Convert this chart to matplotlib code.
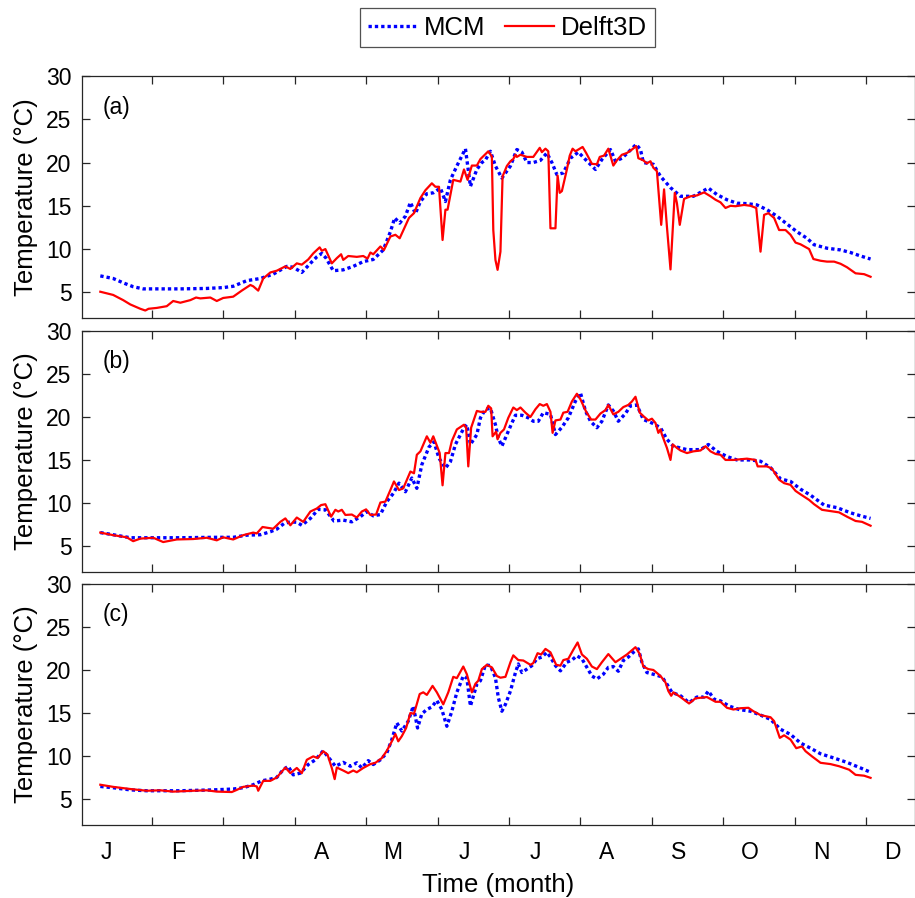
import matplotlib
matplotlib.use("Agg")
import matplotlib.pyplot as plt
import numpy as np

plt.rcParams['font.family'] = ['Liberation Sans', 'DejaVu Sans']

# x = month position (0 = start of Jan), y = temperature (degC)
months = ["J", "F", "M", "A", "M", "J", "J", "A", "S", "O", "N", "D"]
panel_tags = ["(a)", "(b)", "(c)"]

mcm_a = [(0.28, 6.9), (0.46, 6.6), (0.60, 6.1), (0.74, 5.65), (0.88, 5.4), (1.07, 5.4), (1.40, 5.4),
         (1.77, 5.45), (2.00, 5.55), (2.14, 5.7), (2.33, 6.35), (2.52, 6.6), (2.70, 7.1), (2.89, 8.0),
         (2.98, 7.9), (3.10, 7.3), (3.22, 8.35), (3.31, 9.1), (3.38, 9.5), (3.44, 8.95), (3.54, 7.5),
         (3.68, 7.6), (3.82, 8.0), (3.96, 8.55), (4.10, 8.8), (4.24, 9.9), (4.34, 12.0), (4.40, 13.6),
         (4.47, 13.0), (4.55, 13.8), (4.62, 15.4), (4.69, 14.1), (4.76, 15.5), (4.85, 16.4), (4.94, 16.5),
         (5.04, 17.05), (5.11, 15.5), (5.18, 18.0), (5.27, 19.6), (5.39, 21.6), (5.46, 17.25), (5.55, 19.2),
         (5.62, 20.0), (5.67, 20.3), (5.74, 21.3), (5.81, 19.6), (5.90, 18.2), (6.02, 19.6), (6.11, 21.5),
         (6.18, 21.2), (6.25, 20.0), (6.34, 20.0), (6.44, 20.25), (6.53, 21.1), (6.60, 20.0), (6.67, 18.6),
         (6.76, 18.8), (6.86, 20.5), (6.97, 21.2), (7.07, 20.35), (7.21, 19.2), (7.30, 20.35), (7.42, 21.5),
         (7.49, 20.15), (7.58, 20.5), (7.67, 21.2), (7.78, 22.1), (7.84, 21.5), (7.88, 20.0), (8.02, 19.8),
         (8.12, 18.4), (8.26, 17.1), (8.40, 16.1), (8.58, 16.1), (8.68, 16.55), (8.79, 17.05), (8.91, 16.3),
         (9.05, 15.7), (9.19, 15.3), (9.33, 15.25), (9.47, 15.1), (9.61, 14.55), (9.75, 13.8), (9.89, 12.9),
         (10.03, 12.0), (10.17, 11.25), (10.27, 10.5), (10.45, 10.1), (10.64, 9.9), (10.78, 9.6),
         (10.92, 9.2), (11.06, 8.85)]

d3d_a = [(0.28, 5.07), (0.46, 4.7), (0.60, 4.1), (0.70, 3.6), (0.84, 3.1), (0.91, 2.9), (0.955, 3.1),
         (1.07, 3.2), (1.21, 3.4), (1.30, 4.0), (1.40, 3.8), (1.54, 4.1), (1.62, 4.4), (1.68, 4.3),
         (1.82, 4.4), (1.91, 4.0), (2.00, 4.35), (2.14, 4.5), (2.26, 5.2), (2.38, 5.85), (2.42, 5.7),
         (2.49, 5.2), (2.56, 6.6), (2.66, 7.3), (2.75, 7.5), (2.87, 8.0), (2.94, 7.7), (3.03, 8.35),
         (3.10, 8.2), (3.19, 8.8), (3.26, 9.5), (3.35, 10.2), (3.38, 9.8), (3.43, 10.0), (3.52, 8.35),
         (3.59, 8.95), (3.65, 9.4), (3.68, 8.75), (3.75, 9.2), (3.87, 9.1), (3.96, 9.2), (4.02, 8.9),
         (4.06, 9.6), (4.10, 9.4), (4.20, 10.3), (4.25, 9.9), (4.34, 11.45), (4.41, 11.65), (4.47, 11.25),
         (4.60, 13.6), (4.67, 14.15), (4.76, 15.9), (4.83, 16.8), (4.92, 17.6), (4.97, 17.2), (5.02, 17.2),
         (5.07, 11.05), (5.11, 14.55), (5.14, 14.55), (5.22, 18.0), (5.32, 17.8), (5.37, 19.2), (5.42, 18.0),
         (5.48, 19.65), (5.55, 19.65), (5.60, 20.4), (5.71, 21.3), (5.76, 20.7), (5.78, 12.2), (5.81, 8.75),
         (5.84, 7.6), (5.88, 9.7), (5.91, 18.4), (5.97, 19.6), (6.02, 20.15), (6.06, 20.4), (6.09, 20.9),
         (6.11, 20.65), (6.16, 20.9), (6.25, 20.65), (6.34, 20.65), (6.43, 21.7), (6.46, 21.2), (6.51, 21.6),
         (6.55, 21.3), (6.58, 12.4), (6.65, 12.4), (6.68, 18.5), (6.71, 16.5), (6.74, 16.7), (6.81, 19.2),
         (6.85, 20.8), (6.89, 21.6), (6.93, 21.3), (6.97, 21.5), (7.03, 21.8), (7.08, 21.1), (7.16, 19.85),
         (7.23, 19.8), (7.27, 20.65), (7.33, 20.8), (7.39, 21.6), (7.46, 19.65), (7.51, 20.25), (7.58, 20.9),
         (7.65, 21.1), (7.72, 21.5), (7.78, 21.9), (7.81, 20.5), (7.88, 20.25), (7.93, 19.9), (7.98, 20.15),
         (8.02, 19.4), (8.07, 19.0), (8.13, 12.8), (8.17, 16.9), (8.21, 12.6), (8.26, 7.65), (8.32, 16.5),
         (8.35, 15.3), (8.39, 12.8), (8.45, 15.8), (8.54, 16.1), (8.63, 16.2), (8.73, 16.55), (8.82, 16.1),
         (8.89, 15.7), (8.96, 15.4), (9.03, 14.75), (9.10, 15.0), (9.17, 14.95), (9.29, 15.1), (9.38, 15.0),
         (9.46, 14.75), (9.52, 9.7), (9.57, 13.95), (9.63, 14.15), (9.71, 13.6), (9.78, 12.2), (9.87, 12.2),
         (9.94, 11.65), (10.01, 10.75), (10.08, 10.55), (10.20, 10.0), (10.26, 8.85), (10.36, 8.65),
         (10.45, 8.55), (10.55, 8.55), (10.64, 8.3), (10.73, 7.9), (10.85, 7.2), (10.97, 7.1), (11.06, 6.8)]

mcm_b = [(0.28, 6.55), (0.46, 6.3), (0.70, 5.95), (0.93, 5.95), (1.40, 5.95), (1.86, 6.0), (2.14, 6.0),
         (2.33, 6.25), (2.52, 6.3), (2.66, 6.65), (2.75, 6.95), (2.85, 7.6), (2.94, 7.8), (3.03, 7.75),
         (3.10, 7.4), (3.22, 8.2), (3.33, 9.25), (3.43, 9.2), (3.55, 7.9), (3.68, 8.0), (3.80, 7.8),
         (3.92, 8.4), (4.01, 9.0), (4.10, 8.5), (4.20, 8.65), (4.29, 10.15), (4.38, 11.1), (4.46, 12.3),
         (4.55, 11.3), (4.64, 12.9), (4.71, 11.7), (4.78, 14.45), (4.88, 16.5), (4.95, 17.1), (5.02, 15.2),
         (5.11, 14.05), (5.18, 14.8), (5.25, 16.8), (5.37, 18.75), (5.41, 19.1), (5.46, 16.8), (5.55, 17.95),
         (5.60, 19.9), (5.67, 20.9), (5.74, 21.0), (5.81, 19.1), (5.85, 17.55), (5.90, 16.6), (5.97, 17.95),
         (6.04, 19.3), (6.09, 20.2), (6.18, 20.2), (6.27, 19.9), (6.34, 19.5), (6.41, 19.5), (6.48, 20.5),
         (6.58, 20.3), (6.65, 17.95), (6.74, 18.8), (6.83, 19.9), (6.93, 21.85), (7.00, 22.8), (7.07, 20.7),
         (7.14, 19.5), (7.23, 18.75), (7.30, 19.5), (7.39, 21.4), (7.46, 20.7), (7.53, 19.5), (7.63, 20.4),
         (7.70, 21.3), (7.79, 21.4), (7.88, 19.7), (8.00, 19.3), (8.12, 18.75), (8.21, 17.4), (8.30, 16.6),
         (8.49, 16.2), (8.68, 16.2), (8.79, 16.8), (8.91, 16.0), (9.05, 15.4), (9.19, 15.0), (9.38, 15.0),
         (9.52, 14.85), (9.66, 14.1), (9.80, 12.8), (9.94, 12.5), (10.08, 11.6), (10.22, 10.9),
         (10.41, 9.75), (10.59, 9.45), (10.78, 8.85), (10.92, 8.5), (11.06, 8.2)]

d3d_b = [(0.28, 6.55), (0.46, 6.25), (0.65, 6.0), (0.74, 5.55), (0.84, 5.85), (1.02, 5.95), (1.16, 5.45),
         (1.35, 5.75), (1.58, 5.8), (1.77, 5.95), (1.91, 5.65), (2.00, 6.0), (2.14, 5.75), (2.28, 6.25),
         (2.42, 6.55), (2.47, 6.45), (2.55, 7.2), (2.70, 7.0), (2.80, 7.8), (2.87, 8.2), (2.94, 7.4),
         (3.03, 8.3), (3.12, 7.8), (3.22, 9.0), (3.31, 9.35), (3.37, 9.75), (3.43, 9.85), (3.51, 8.4),
         (3.57, 9.2), (3.61, 9.0), (3.66, 9.2), (3.71, 8.6), (3.80, 8.65), (3.87, 8.3), (3.94, 9.0),
         (4.00, 9.25), (4.06, 8.6), (4.14, 8.65), (4.20, 10.05), (4.27, 10.15), (4.34, 11.5), (4.39, 12.5),
         (4.46, 11.5), (4.52, 11.7), (4.62, 13.65), (4.67, 13.45), (4.71, 15.6), (4.76, 16.0), (4.85, 17.75),
         (4.90, 17.0), (4.94, 17.75), (5.03, 15.8), (5.07, 12.05), (5.11, 15.8), (5.16, 15.8), (5.20, 17.2),
         (5.27, 18.55), (5.37, 19.1), (5.40, 18.75), (5.43, 14.25), (5.47, 18.75), (5.55, 20.7),
         (5.60, 20.6), (5.67, 20.6), (5.71, 21.3), (5.75, 21.0), (5.77, 17.75), (5.82, 18.3), (5.84, 17.4),
         (5.88, 18.15), (5.93, 18.55), (5.99, 19.9), (6.06, 21.1), (6.11, 20.8), (6.16, 21.1), (6.23, 20.5),
         (6.30, 20.0), (6.37, 20.9), (6.43, 21.5), (6.48, 21.3), (6.53, 21.5), (6.58, 20.6), (6.61, 18.15),
         (6.65, 19.6), (6.72, 19.7), (6.76, 20.5), (6.82, 20.6), (6.88, 21.8), (6.95, 22.7), (7.00, 22.05),
         (7.08, 20.6), (7.15, 19.7), (7.21, 19.7), (7.28, 20.4), (7.35, 20.8), (7.39, 21.4), (7.46, 20.3),
         (7.53, 20.6), (7.60, 21.15), (7.67, 21.4), (7.72, 21.8), (7.77, 22.35), (7.83, 20.5), (7.88, 20.1),
         (7.95, 19.6), (8.00, 19.8), (8.05, 19.3), (8.09, 18.15), (8.12, 18.55), (8.14, 17.95), (8.21, 16.4),
         (8.26, 15.0), (8.29, 16.8), (8.35, 16.4), (8.40, 16.1), (8.49, 15.8), (8.58, 16.0), (8.68, 16.1),
         (8.75, 16.6), (8.82, 16.0), (8.89, 15.7), (8.96, 15.6), (9.03, 15.0), (9.14, 15.0), (9.33, 15.15),
         (9.45, 15.0), (9.48, 14.25), (9.61, 14.25), (9.68, 14.0), (9.78, 12.7), (9.85, 12.3), (9.94, 12.1),
         (10.01, 11.4), (10.08, 11.0), (10.20, 10.35), (10.27, 9.85), (10.38, 9.2), (10.50, 9.05),
         (10.62, 8.9), (10.73, 8.4), (10.85, 7.9), (10.94, 7.8), (11.06, 7.35)]

mcm_c = [(0.28, 6.45), (0.46, 6.3), (0.70, 6.05), (0.93, 5.95), (1.40, 5.95), (1.86, 6.05), (2.14, 6.15),
         (2.28, 6.3), (2.42, 6.65), (2.54, 7.1), (2.66, 7.3), (2.75, 7.5), (2.84, 8.4), (2.91, 8.8),
         (2.98, 7.8), (3.08, 8.0), (3.19, 9.0), (3.29, 9.55), (3.40, 10.6), (3.50, 9.55), (3.57, 8.8),
         (3.68, 9.25), (3.78, 8.8), (3.87, 9.2), (3.94, 8.6), (4.03, 9.45), (4.10, 9.0), (4.20, 9.55),
         (4.29, 10.35), (4.36, 11.9), (4.43, 13.85), (4.50, 12.9), (4.59, 14.05), (4.66, 15.8), (4.72, 13.25),
         (4.78, 14.9), (4.85, 15.4), (4.92, 15.7), (4.99, 16.45), (5.06, 15.4), (5.13, 13.45), (5.20, 15.2),
         (5.27, 17.4), (5.36, 19.3), (5.41, 19.05), (5.46, 15.8), (5.55, 18.35), (5.60, 18.75), (5.67, 20.6),
         (5.74, 20.5), (5.81, 19.1), (5.85, 16.8), (5.90, 15.2), (5.95, 16.0), (6.02, 17.55), (6.09, 19.7),
         (6.13, 20.7), (6.18, 19.7), (6.25, 20.1), (6.32, 20.5), (6.39, 21.3), (6.46, 21.5), (6.53, 22.05),
         (6.58, 21.5), (6.65, 20.5), (6.72, 19.9), (6.81, 20.9), (6.88, 21.15), (6.95, 21.65), (7.02, 21.3),
         (7.09, 20.3), (7.16, 19.3), (7.23, 18.95), (7.32, 19.5), (7.39, 20.3), (7.46, 20.4), (7.53, 19.85),
         (7.60, 21.1), (7.67, 21.5), (7.74, 22.05), (7.81, 22.45), (7.86, 20.9), (7.93, 19.7), (8.02, 19.5),
         (8.14, 19.2), (8.21, 18.35), (8.28, 17.4), (8.40, 17.0), (8.52, 16.2), (8.63, 16.85), (8.73, 16.85),
         (8.79, 17.55), (8.87, 16.6), (8.96, 16.4), (9.08, 15.8), (9.22, 15.4), (9.38, 15.2), (9.52, 14.75),
         (9.66, 14.25), (9.80, 13.1), (9.94, 12.5), (10.08, 11.5), (10.22, 10.9), (10.36, 10.25),
         (10.55, 9.75), (10.73, 9.25), (10.92, 8.6), (11.06, 8.1)]

d3d_c = [(0.28, 6.65), (0.46, 6.4), (0.70, 6.15), (0.93, 5.95), (1.12, 6.0), (1.30, 5.85), (1.58, 5.95),
         (1.77, 6.0), (1.91, 5.85), (2.12, 5.8), (2.19, 6.05), (2.28, 6.4), (2.42, 6.55), (2.47, 6.45),
         (2.49, 5.95), (2.56, 7.1), (2.66, 7.1), (2.75, 7.5), (2.87, 8.65), (2.94, 8.0), (3.03, 8.6),
         (3.10, 8.0), (3.17, 9.55), (3.26, 9.95), (3.32, 9.75), (3.40, 10.55), (3.46, 10.15), (3.52, 8.6),
         (3.56, 7.3), (3.59, 8.65), (3.68, 8.3), (3.75, 8.0), (3.82, 8.3), (3.87, 8.1), (3.96, 8.6),
         (4.06, 9.05), (4.13, 9.2), (4.22, 9.75), (4.29, 10.6), (4.36, 11.7), (4.41, 12.55), (4.45, 11.7),
         (4.50, 12.3), (4.56, 13.25), (4.62, 15.0), (4.67, 14.9), (4.75, 17.2), (4.80, 17.4), (4.85, 17.1),
         (4.93, 18.15), (4.99, 17.4), (5.08, 16.0), (5.15, 17.4), (5.22, 19.2), (5.27, 19.05), (5.36, 20.4),
         (5.41, 19.5), (5.48, 17.4), (5.53, 18.4), (5.57, 18.75), (5.62, 20.1), (5.69, 20.6), (5.76, 20.3),
         (5.83, 19.3), (5.88, 19.1), (5.95, 19.2), (6.02, 20.9), (6.06, 21.7), (6.13, 21.15), (6.20, 21.1),
         (6.30, 20.6), (6.34, 20.8), (6.40, 21.95), (6.45, 21.8), (6.51, 22.45), (6.58, 22.05), (6.66, 20.6),
         (6.72, 20.5), (6.76, 21.15), (6.83, 21.3), (6.90, 22.35), (6.96, 23.2), (7.02, 21.8), (7.09, 21.3),
         (7.16, 20.4), (7.23, 20.1), (7.30, 20.9), (7.39, 21.85), (7.49, 20.9), (7.56, 21.3), (7.65, 21.8),
         (7.77, 22.65), (7.83, 21.85), (7.88, 20.4), (7.95, 20.1), (8.02, 20.0), (8.12, 19.3), (8.19, 18.55),
         (8.23, 17.55), (8.27, 17.0), (8.30, 17.4), (8.40, 16.85), (8.52, 16.1), (8.61, 16.7), (8.77, 16.85),
         (8.89, 16.3), (8.96, 16.3), (9.05, 15.6), (9.14, 15.4), (9.24, 15.55), (9.35, 15.6), (9.42, 15.2),
         (9.52, 14.75), (9.66, 14.5), (9.71, 14.05), (9.79, 12.1), (9.85, 12.4), (9.94, 11.9), (10.02, 10.9),
         (10.10, 11.1), (10.15, 10.55), (10.24, 9.95), (10.36, 9.2), (10.50, 9.05), (10.62, 8.8),
         (10.76, 8.4), (10.85, 7.8), (10.97, 7.7), (11.06, 7.45)]

mcm_series = [mcm_a, mcm_b, mcm_c]
d3d_series = [d3d_a, d3d_b, d3d_c]

W, H = 915, 898
fig = plt.figure(figsize=(W / 100, H / 100), dpi=100)

# axes boxes in pixels: (top, bottom)
rows = [(76, 318.3), (331, 571.7), (584, 824.7)]
left_px, right_px = 82.3, 914.5
spine_col = (0.15, 0.15, 0.15)

axes = []
for i, (top, bot) in enumerate(rows):
    ax = fig.add_axes([left_px / W, 1 - bot / H, (right_px - left_px) / W, (bot - top) / H])
    mx, my = np.array(mcm_series[i]).T
    dx, dy = np.array(d3d_series[i]).T
    ax.plot(mx, my, color=(0, 0, 1), lw=2.4, linestyle=(0, (1, 0.9)), label="MCM")
    ax.plot(dx, dy, color=(1, 0, 0), lw=1.6, label="Delft3D")

    ax.set_xlim(0.028, 11.675)
    ax.set_ylim(2, 30)
    ax.set_yticks(np.arange(5, 31, 5))
    ax.set_xticks(np.arange(1, 12))
    ax.set_xticklabels([])
    ax.set_xticks(np.arange(12) + 0.37, minor=True)
    if i == 2:
        ax.set_xticklabels(months, minor=True)
    else:
        ax.set_xticklabels([], minor=True)
    ax.tick_params(which="major", direction="in", length=6, width=0.9, top=True, right=True,
                   color=spine_col, labelsize=16.5, pad=7.6)
    ax.tick_params(axis="x", which="minor", length=0, labelsize=16.5, pad=12)
    for s in ax.spines.values():
        s.set_color(spine_col)
        s.set_linewidth(0.9)
    ax.set_ylabel("Temperature (\u00b0C)", fontsize=18.5)
    ax.yaxis.set_label_coords(-0.0527, 0.5)
    ax.text(0.025, 0.872, panel_tags[i], transform=ax.transAxes, fontsize=16.5,
            ha="left", va="center")
    axes.append(ax)

fig.text(0.5 * (left_px + right_px) / W, 1 - 891.7 / H, "Time (month)", fontsize=18.5,
         ha="center", va="baseline")

handles, labels = axes[0].get_legend_handles_labels()
leg = fig.legend(handles, labels, ncol=2, loc="upper center", bbox_to_anchor=(507.5 / W, 1 - 8 / H),
                 fontsize=18.5, frameon=True, fancybox=False, borderaxespad=0, handlelength=1.9,
                 handletextpad=0.3, columnspacing=0.75, borderpad=0.3)
leg.get_frame().set_edgecolor(spine_col)
leg.get_frame().set_linewidth(0.9)

fig.savefig("out.png", dpi=100)
